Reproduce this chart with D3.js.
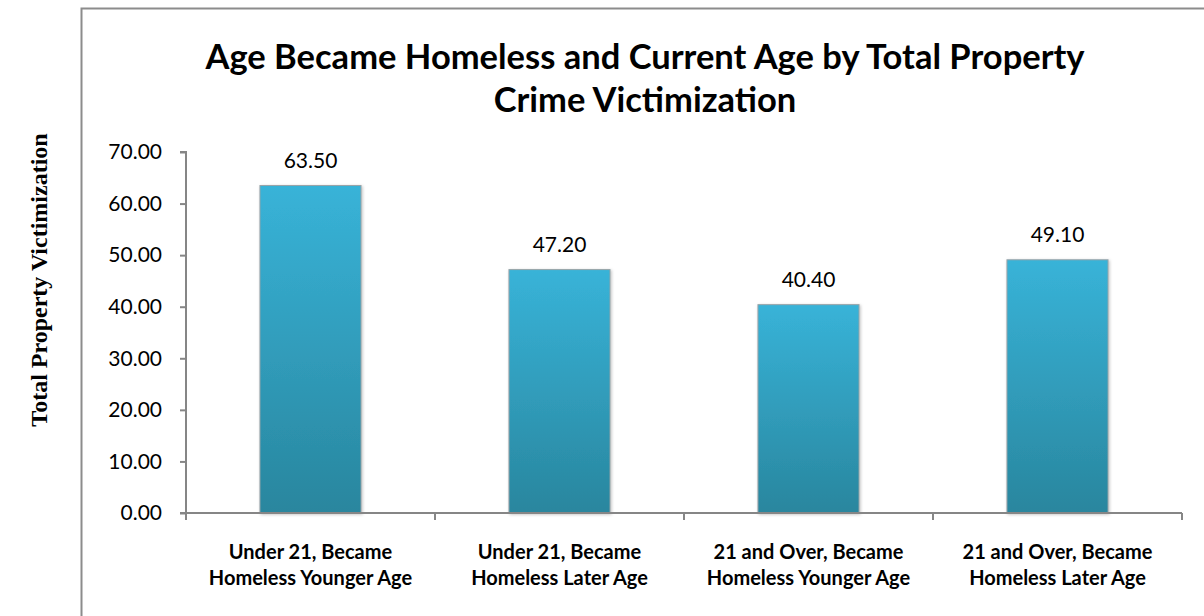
<!DOCTYPE html>
<html><head><meta charset="utf-8">
<script src="https://cdn.jsdelivr.net/npm/d3@7"></script>
<style>body{margin:0;background:#fff}svg{display:block}</style>
</head><body>
<svg id="c" width="1204" height="616"></svg>
<script>
const categories = [
  ["Under 21, Became", "Homeless Younger Age"],
  ["Under 21, Became", "Homeless Later Age"],
  ["21 and Over, Became", "Homeless Younger Age"],
  ["21 and Over, Became", "Homeless Later Age"]
];
const values = [63.50, 47.20, 40.40, 49.10];
const yTicks = [0, 10, 20, 30, 40, 50, 60, 70];
const titleLines = ["Age Became Homeless and Current Age by Total Property", "Crime Victimization"];
const yTitle = "Total Property Victimization";

(function () {
const svg = d3.select("#c");
const font = "Lato, 'Noto Sans', sans-serif";

const defs = svg.append("defs");
const g = defs.append("linearGradient").attr("id", "bg").attr("x1", 0).attr("y1", 0).attr("x2", 0).attr("y2", 1);
g.append("stop").attr("offset", "0%").attr("stop-color", "#38B3D8");
g.append("stop").attr("offset", "100%").attr("stop-color", "#29869E");
const f = defs.append("filter").attr("id", "sh").attr("x", "-10%").attr("y", "-10%").attr("width", "130%").attr("height", "130%");
f.append("feDropShadow").attr("dx", 1).attr("dy", 1).attr("stdDeviation", 1.5).attr("flood-color", "#000").attr("flood-opacity", 0.25);

svg.append("rect").attr("x", 81.5).attr("y", 8.5).attr("width", 1200).attr("height", 700)
  .attr("fill", "#fff").attr("stroke", "#8c8c8c").attr("stroke-width", 2);

svg.append("text").attr("x", 645).attr("y", 69).attr("text-anchor", "middle")
  .attr("font-family", font).attr("font-weight", "bold").attr("font-size", 34.5).attr("fill", "#000")
  .selectAll("tspan").data(titleLines).join("tspan")
  .attr("x", 645).attr("dy", (d, i) => i ? 43 : 0).text(d => d);

const pl = 186, pr = 1182, pt = 152, pb = 513;
const x = d3.scaleBand().domain(d3.range(categories.length)).range([pl, pr]).paddingInner(0).paddingOuter(0);
const y = d3.scaleLinear().domain([0, 70]).range([pb, pt]);
const bw = x.bandwidth() * 0.406;

svg.append("g").selectAll("rect").data(values).join("rect")
  .attr("x", (d, i) => x(i) + (x.bandwidth() - bw) / 2)
  .attr("y", d => y(d))
  .attr("width", bw)
  .attr("height", d => y(0) - y(d))
  .attr("fill", "url(#bg)")
  .attr("stroke", "#9aa4a8").attr("stroke-width", 1)
  .attr("filter", "url(#sh)");

svg.append("g").selectAll("text").data(values).join("text")
  .attr("x", (d, i) => x(i) + x.bandwidth() / 2)
  .attr("y", d => y(d) - 18)
  .attr("text-anchor", "middle")
  .attr("font-family", font).attr("font-size", 21).attr("fill", "#000")
  .text(d => d.toFixed(2));

const ya = svg.append("g").attr("transform", `translate(${pl},0)`)
  .call(d3.axisLeft(y).tickValues(yTicks).tickFormat(d => d.toFixed(2)).tickSize(6).tickPadding(18));
ya.select(".domain").attr("stroke", "#868686").attr("stroke-width", 2).attr("d", `M-6,${pt}H0V${pb}`);
ya.selectAll(".tick line").attr("stroke", "#868686").attr("stroke-width", 2);
ya.selectAll(".tick text").attr("font-family", font).attr("font-size", 21).attr("fill", "#000");

const xa = svg.append("g").attr("transform", `translate(0,${pb})`);
xa.append("line").attr("x1", pl - 6).attr("x2", pr).attr("y1", 0).attr("y2", 0)
  .attr("stroke", "#868686").attr("stroke-width", 2);
const bounds = d3.range(categories.length + 1).map(i => i < categories.length ? x(i) : x(i - 1) + x.bandwidth());
xa.selectAll("line.t").data(bounds).join("line").attr("class", "t")
  .attr("x1", d => d).attr("x2", d => d).attr("y1", 0).attr("y2", 7)
  .attr("stroke", "#868686").attr("stroke-width", 2);
xa.selectAll("text").data(categories).join("text")
  .attr("text-anchor", "middle")
  .attr("font-family", font).attr("font-weight", "bold").attr("font-size", 20).attr("fill", "#000")
  .attr("y", 46)
  .selectAll("tspan").data((d, i) => d.map(s => ({ s, i }))).join("tspan")
  .attr("x", d => x(d.i) + x.bandwidth() / 2)
  .attr("dy", (d, j) => j ? 26 : 0)
  .text(d => d.s);

svg.append("text").attr("transform", "translate(47,280) rotate(-90)")
  .attr("text-anchor", "middle")
  .attr("font-family", "'Liberation Serif', 'Times New Roman', serif").attr("font-weight", "bold")
  .attr("font-size", 24).attr("fill", "#000").text(yTitle);
})();
</script>
</body></html>
